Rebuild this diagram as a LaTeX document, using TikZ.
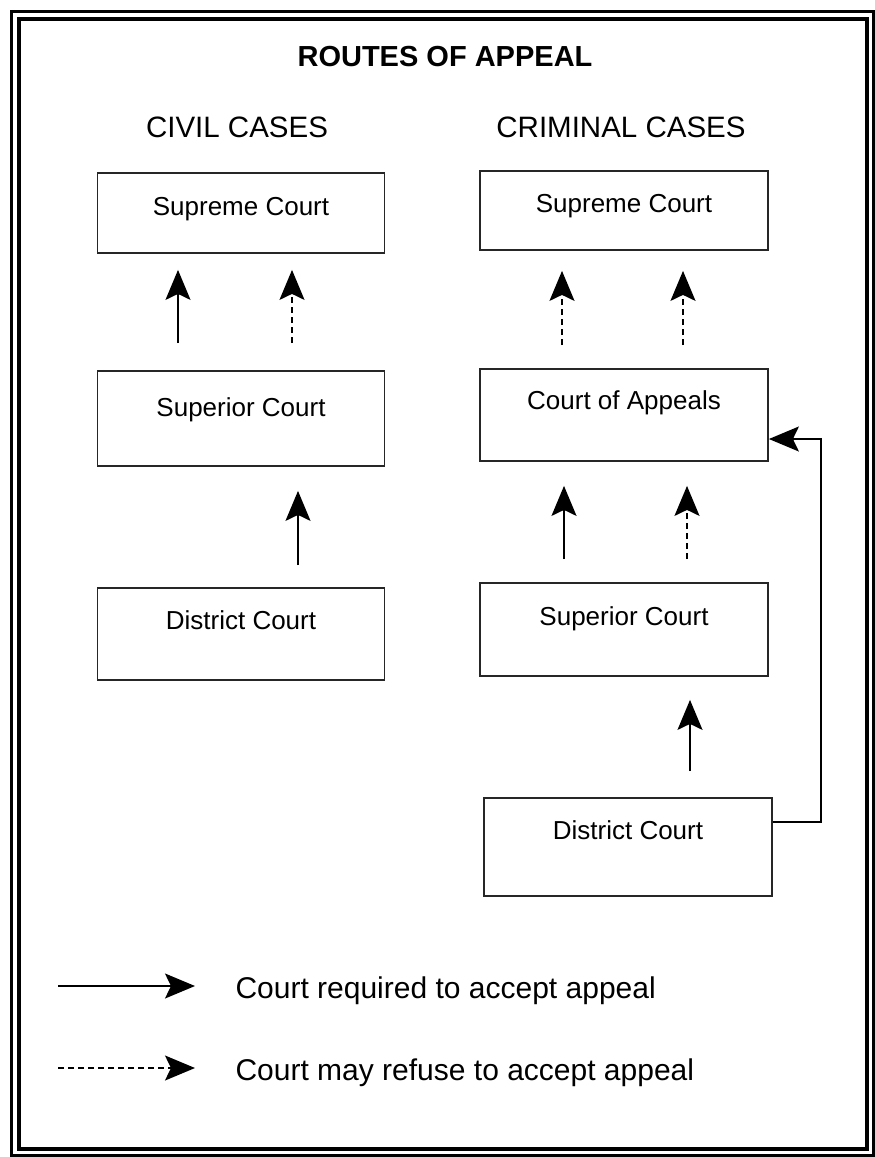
\documentclass[tikz,border=0pt]{standalone}
\usepackage{fontspec}
\setmainfont{Liberation Sans}
\usetikzlibrary{arrows.meta,calc}

\begin{document}
\begin{tikzpicture}[
    x=1pt, y=-1pt,
    >={Stealth[length=30pt, width=25pt, inset=6pt]},
    box/.style={draw=black!85, line width=1.8pt, minimum width=287pt,
        inner sep=0pt, text height=19pt, font=\fontsize{26}{30}\selectfont},
    req/.style={->, line width=1.6pt},
    may/.style={->, line width=1.6pt, dash pattern=on 6pt off 4pt},
    hdr/.style={font=\fontsize{29.5}{34}\selectfont},
    lbl/.style={anchor=west, text height=22pt, text depth=6pt,
        font=\fontsize{30}{34}\selectfont},
]
\useasboundingbox (0,0) rectangle (875,1157);

% frame
\draw[line width=3pt] (11,11) rectangle (873,1155);
\draw[line width=4pt] (19,19) rectangle (867,1149);

% headings
\node[hdr, font=\fontsize{29}{34}\selectfont\bfseries] (title) at (445,57) {ROUTES OF APPEAL};
\node[hdr] (civil) at (237,127) {CIVIL CASES};
\node[hdr] (crim) at (621,127) {CRIMINAL CASES};

% === CIVIL CASES ===
\node[box, minimum height=80pt, text depth=14pt] (sup1) at (241,213) {Supreme Court};
\node[box, minimum height=95pt, text depth=23pt] (supr1) at (241,418.5) {Superior Court};
\node[box, minimum height=92pt, text depth=28pt] (dist1) at (241,634) {District Court};

\draw[req] ([xshift=-63pt, yshift=27pt]supr1.north) -- ([xshift=-63pt, yshift=-16pt]sup1.south);
\draw[may] ([xshift=51pt, yshift=27pt]supr1.north) -- ([xshift=51pt, yshift=-16pt]sup1.south);
\draw[req] ([xshift=57pt, yshift=22pt]dist1.north) -- ([xshift=57pt, yshift=-24pt]supr1.south);

% === CRIMINAL CASES ===
\node[box, minimum width=288pt, minimum height=79pt, text depth=16pt] (sup2) at (624,210.5) {Supreme Court};
\node[box, minimum width=288pt, minimum height=92pt, text depth=30pt] (app2) at (624,415) {Court of Appeals};
\node[box, minimum width=288pt, minimum height=93pt, text depth=28pt] (supr2) at (624,629.5) {Superior Court};
\node[box, minimum width=288pt, minimum height=98pt, text depth=34pt] (dist2) at (628,847) {District Court};

\draw[may] ([xshift=-62pt, yshift=23pt]app2.north) -- ([xshift=-62pt, yshift=-20pt]sup2.south);
\draw[may] ([xshift=59pt, yshift=23pt]app2.north) -- ([xshift=59pt, yshift=-20pt]sup2.south);
\draw[req] ([xshift=-60pt, yshift=23pt]supr2.north) -- ([xshift=-60pt, yshift=-24pt]app2.south);
\draw[may] ([xshift=63pt, yshift=23pt]supr2.north) -- ([xshift=63pt, yshift=-24pt]app2.south);
\draw[req] ([xshift=62pt, yshift=26pt]dist2.north) -- ([xshift=66pt, yshift=-23pt]supr2.south);
\draw[req] ([yshift=25pt]dist2.east) -- ++(48,0) |- ([yshift=-24pt]app2.east);

% legend
\node[lbl] (lg1) at (232,990) {Court required to accept appeal};
\node[lbl] (lg2) at (232,1072) {Court may refuse to accept appeal};
\draw[req] ([xshift=-174pt, yshift=4pt]lg1.west) -- ([xshift=-37pt, yshift=4pt]lg1.west);
\draw[may] ([xshift=-174pt, yshift=4pt]lg2.west) -- ([xshift=-37pt, yshift=4pt]lg2.west);

\end{tikzpicture}
\end{document}
